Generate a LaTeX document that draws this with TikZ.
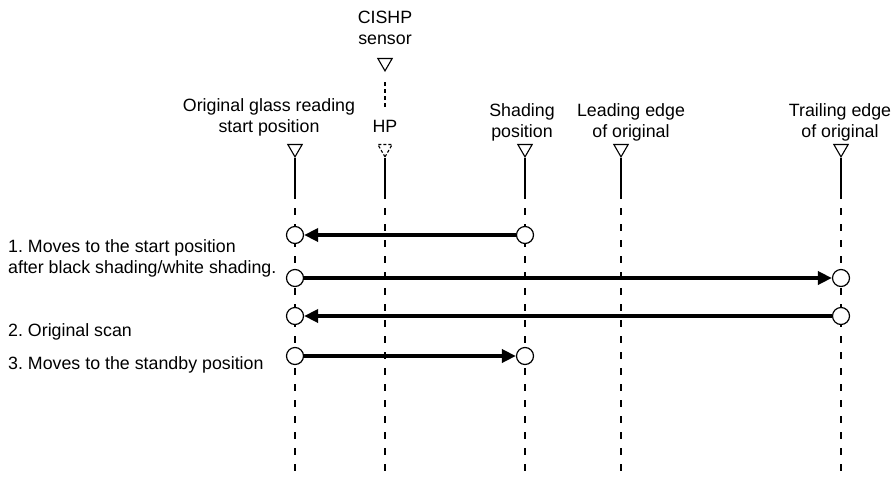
\documentclass[tikz,border=0pt]{standalone}
\usepackage{fontspec}
\setmainfont{Liberation Sans}
\usetikzlibrary{arrows.meta, shapes.geometric}
\frenchspacing

\begin{document}
\begin{tikzpicture}[
    % one unit = one pixel of the layout, y runs downwards
    x=1pt,
    y=-1pt,
    >={Triangle[length=14pt, width=13pt]},
    font=\fontsize{17.8}{21}\selectfont,
    marker/.style={draw, regular polygon, regular polygon sides=3,
        shape border rotate=180, minimum size=16.5pt, inner sep=0pt,
        line width=1.1pt, anchor=south},
    hpmarker/.style={marker, dash pattern=on 3pt off 2pt},
    stop/.style={draw, circle, fill=white, minimum size=17pt,
        inner sep=0pt, line width=1.2pt},
    solidpart/.style={line width=1.2pt},
    dashpart/.style={line width=1.6pt, dash pattern=on 7pt off 9pt},
    move/.style={line width=4pt, ->},
    heading/.style={align=center, inner sep=0pt},
    step text/.style={align=left, anchor=west, inner sep=0pt}
]
    \useasboundingbox (0,0) rectangle (893,482);

    % --- Sensor at the top ---
    \node[heading] (cishp) at (385,28) {CISHP\\sensor};
    \node[marker] (sensor) at (385,72) {};
    \coordinate (sensor-top) at (385,82);
    \coordinate (sensor-bot) at (385,108);
    \draw[line width=1.1pt, dash pattern=on 4pt off 3pt] (sensor-top) -- (sensor-bot);

    % --- Position labels ---
    \node[heading] (start-text) at (269,117) {Original glass reading\\start position};
    \node[heading] (hp-text) at (385,126) {HP};
    \node[heading] (shade-text) at (522,122) {Shading\\position};
    \node[heading] (lead-text) at (631,122) {Leading edge\\of original};
    \node[heading] (trail-text) at (840,122) {Trailing edge\\of original};

    % --- Markers and guide lines ---
    \foreach \name/\x/\look in {start/295/marker, hp/385/hpmarker,
            shade/525/marker, lead/621/marker, trail/841/marker} {
        \node[\look] (\name) at (\x,158) {};
        \coordinate (\name-mid) at (\x,192);
        \coordinate (\name-end) at (\x,478);
        \draw[solidpart] (\name.south) -- (\name-mid);
        \draw[dashpart] (\name-mid) -- (\name-end);
    }

    % --- Carriage stops ---
    \node[stop] (a1) at (295,235) {};
    \node[stop] (a2) at (525,235) {};
    \node[stop] (b1) at (295,278) {};
    \node[stop] (b2) at (841,278) {};
    \node[stop] (c1) at (295,316) {};
    \node[stop] (c2) at (841,316) {};
    \node[stop] (d1) at (295,356) {};
    \node[stop] (d2) at (525,356) {};

    % --- Movements ---
    \draw[move] (a2) -- (a1);
    \draw[move] (b1) -- (b2);
    \draw[move] (c2) -- (c1);
    \draw[move] (d1) -- (d2);

    % --- Step descriptions ---
    \node[step text] (step1) at (8,258) {1. Moves to the start position\\after black shading/white shading.};
    \node[step text] (step2) at (8,332) {2. Original scan};
    \node[step text] (step3) at (8,365) {3. Moves to the standby position};

\end{tikzpicture}
\end{document}
